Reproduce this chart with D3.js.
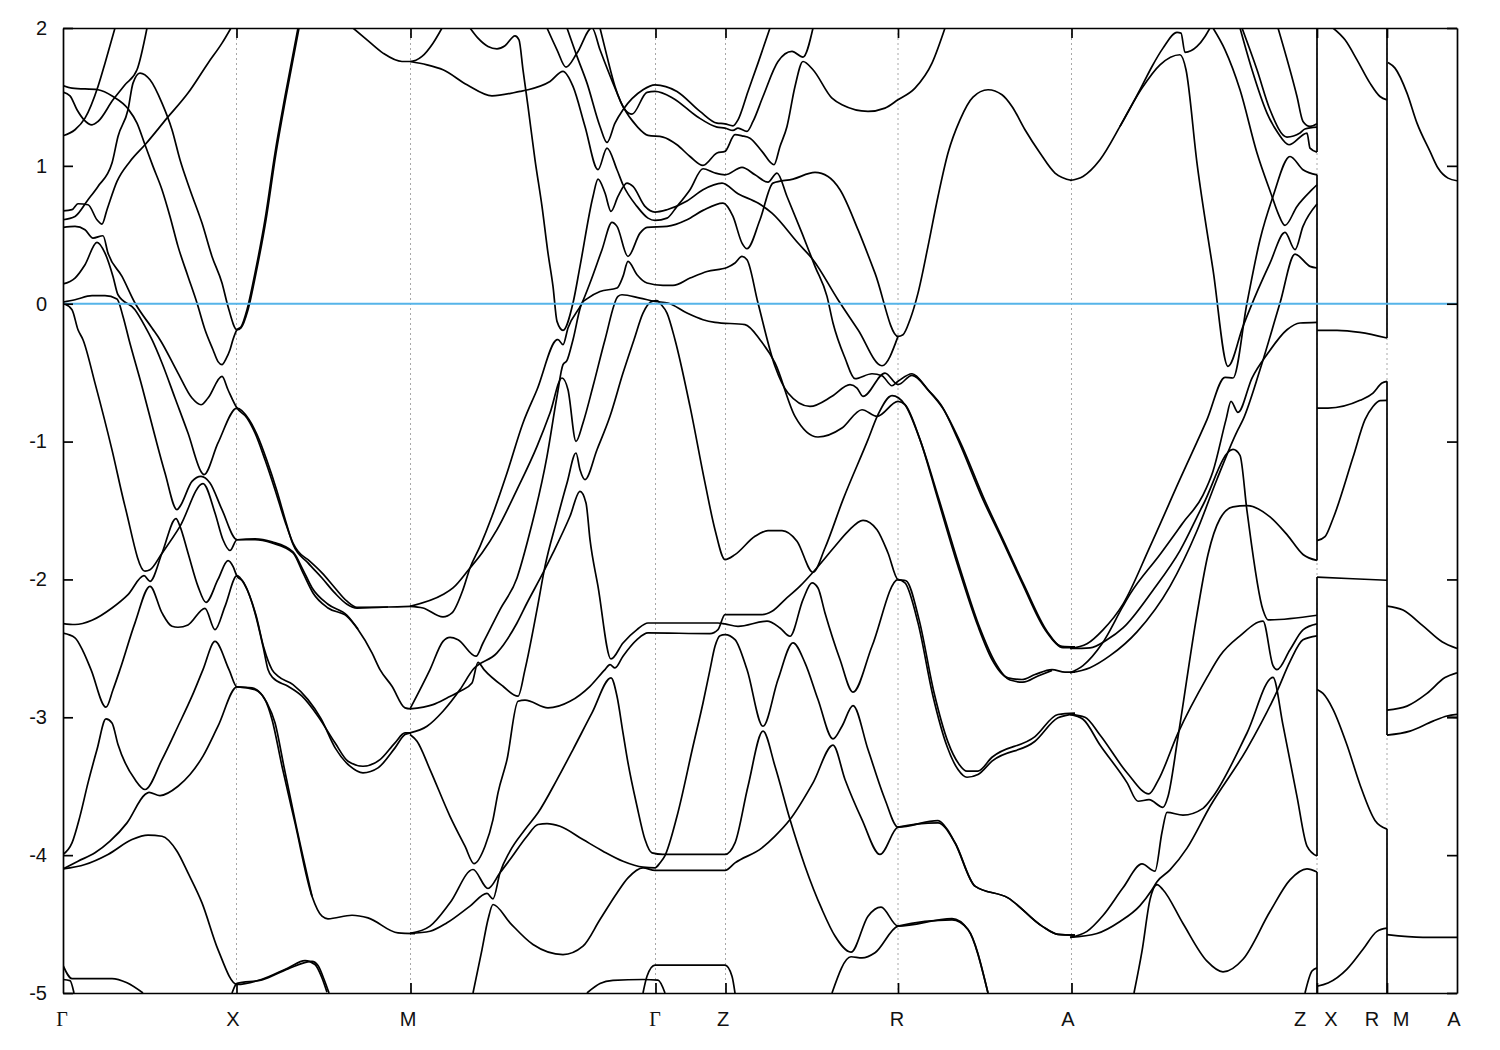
<!DOCTYPE html>
<html><head><meta charset="utf-8">
<script src="https://cdn.jsdelivr.net/npm/d3@7"></script>
<style>html,body{margin:0;background:#fff}svg{display:block}text{font-family:"Liberation Sans",Arial,sans-serif;font-size:20px;fill:#111}</style>
</head><body><svg id="c" width="1500" height="1050"></svg>
<script>
// k = distance along the path, E = energy
const energyTicks=[2,1,0,-1,-2,-3,-4,-5];
const symmetryK=[173.5,347.5,592.5,662.5,835,1008.5,1254,1324];
const kTickLabels=["Γ","X","M","Γ","Z","R","A","Z","X","R","M","A"];
const kTickLabelPos=[-1,170,345,592,660,834,1005,1237,1268,1309,1338,1391];
const fermi=[[0,0],[1394,0]];
const seam1=[[1254,2],[1254,1.1]], seam2=[[1254,.935],[1254,-1.862]], seam3=[[1254,-1.983],[1254,-4.007]], seam4=[[1254,-4.122],[1254,-5]];
const seam5=[[1324,2],[1324,-.249]], seam6=[[1324,-.563],[1324,-3.129]], seam7=[[1324,-3.811],[1324,-5]];

// Γ - X
const b01=[[0,1.583],[9,1.564],[35,1.552],[50,1.503],[65,1.414],[74,1.31],[82,1.153],[90,.996],[99,.827],[107,.633],[115,.416],[125,.198],[134,.005],[142,-.189],[150,-.334],[155,-.42],[159,-.442],[163,-.4],[167,-.334],[170,-.26],[174,-.189],[178,-.169],[184,-.044],[192,.222],[202,.609],[212,1.093],[222,1.503],[235,2]];
const b02=[[0,.609],[12,.633],[25,.754],[35,.851],[49,1.02],[55,1.213],[65,1.407],[70,1.6],[77,1.673],[87,1.624],[99,1.455],[109,1.262],[117,1.044],[127,.827],[139,.585],[149,.343],[159,.15],[165,-.02],[174,-.189],[178,-.175],[185,-.044],[193,.222],[203,.609],[213,1.093],[223,1.503],[236,2]];
const b03=[[0,.554],[12,.561],[22,.537],[30,.476],[40,.493],[45,.367],[59,.198],[72,.005],[89,-.176],[97,-.261],[115,-.503],[129,-.684],[138,-.733],[145,-.684],[159,-.527],[165,-.624],[174,-.757],[184,-.829],[192,-.938],[202,-1.132],[212,-1.349],[222,-1.579],[230,-1.736],[235,-1.796],[245,-1.857],[259,-1.953],[272,-2.062],[284,-2.158],[294,-2.202],[325,-2.2],[348,-2.195]];
const b04=[[0,.143],[12,.186],[22,.283],[34,.445],[42,.367],[50,.198],[55,.065],[72,-.044],[82,-.164],[89,-.261],[99,-.43],[112,-.684],[125,-.938],[139,-1.228],[141,-1.24],[155,-1.01],[174,-.757],[186,-.84],[194,-.95],[204,-1.14],[214,-1.36],[223,-1.585],[230,-1.745],[245,-1.88],[259,-1.99],[272,-2.1],[284,-2.18],[294,-2.208],[325,-2.2]];
const b05=[[0,.012],[12,.029],[29,.058],[42,.058],[54,.034],[60,-.092],[66,-.261],[79,-.6],[92,-.962],[102,-1.228],[114,-1.494],[117,-1.47],[129,-1.289],[138,-1.252],[147,-1.3],[159,-1.494],[174,-1.712],[192,-1.712],[209,-1.736],[230,-1.808],[240,-1.953],[250,-2.098],[265,-2.207],[284,-2.268],[295,-2.364],[309,-2.533],[317,-2.654],[329,-2.775],[342,-2.932],[348,-2.94]];
const b06=[[0,.005],[9,-.044],[15,-.189],[20,-.261],[32,-.576],[49,-1.06],[62,-1.47],[82,-1.94],[87,-1.93],[99,-1.81],[117,-1.615],[140,-1.305],[152,-1.518],[160,-1.712],[167,-1.79],[174,-1.712],[192,-1.706],[209,-1.728],[230,-1.8],[240,-1.93],[249,-2.06],[265,-2.18],[284,-2.26],[295,-2.36]];
const b07=[[0,-2.32],[12,-2.327],[29,-2.296],[49,-2.207],[65,-2.11],[81,-1.973],[87,-2.014],[99,-1.81],[113,-1.559],[117,-1.615],[125,-1.808],[135,-2.05],[143,-2.166],[155,-2],[165,-1.864],[170,-1.905],[174,-1.977],[180,-2.014],[192,-2.243],[200,-2.485],[205,-2.654],[210,-2.714],[225,-2.775],[239,-2.847],[255,-2.992],[272,-3.185],[285,-3.319],[300,-3.355],[317,-3.307],[332,-3.185],[342,-3.113],[348,-3.113]];
const b08=[[0,-2.39],[12,-2.424],[20,-2.52],[28,-2.654],[43,-2.927],[50,-2.8],[57,-2.654],[72,-2.315],[87,-2.05],[99,-2.243],[109,-2.34],[115,-2.347],[125,-2.33],[142,-2.21],[152,-2.364],[162,-2.195],[174,-1.973],[181,-2.03],[193,-2.26],[201,-2.5],[209,-2.654],[215,-2.702],[230,-2.763],[245,-2.872],[258,-3.01],[272,-3.22],[287,-3.355],[300,-3.403],[315,-3.367],[332,-3.222],[342,-3.125],[348,-3.113]];
const b09=[[0,-3.995],[9,-3.911],[17,-3.717],[25,-3.476],[34,-3.234],[43,-3.012],[49,-3.041],[55,-3.198],[72,-3.452],[82,-3.524],[99,-3.307],[115,-3.065],[129,-2.847],[140,-2.654],[152,-2.45],[166,-2.654],[174,-2.78],[189,-2.787],[202,-2.872],[209,-3.016],[219,-3.355],[232,-3.766],[249,-4.298],[259,-4.443],[265,-4.462],[289,-4.436],[305,-4.455],[335,-4.564],[352,-4.569]];
const b10=[[0,-4.1],[15,-4.044],[32,-3.983],[47,-3.899],[64,-3.766],[82,-3.56],[86,-3.544],[97,-3.568],[115,-3.5],[127,-3.415],[140,-3.282],[155,-3.065],[174,-2.78],[192,-2.799],[204,-2.896],[212,-3.04],[221,-3.36],[233,-3.78],[249,-4.298]];
const b11=[[0,-4.1],[22,-4.068],[45,-3.995],[69,-3.887],[85,-3.855],[99,-3.863],[114,-3.972],[125,-4.129],[139,-4.346],[155,-4.685],[174,-4.938],[199,-4.9],[225,-4.818],[242,-4.765],[252,-4.793],[259,-4.89],[264,-4.994]];
const b12=[[0,-4.8],[9,-4.895],[49,-4.895],[64,-4.926],[80,-5]];
const b13=[[0,-4.902],[7,-4.91],[11,-5]];
const b14=[[169,-5],[174,-4.93],[199,-4.905],[225,-4.825],[249,-4.77],[255,-4.8],[261,-4.9],[266,-5]];
const b15=[[0,1.535],[7,1.508],[14,1.407],[21,1.334],[29,1.298],[35,1.322],[50,1.479],[62,1.588],[74,1.697],[84,2]];
const b16=[[0,1.218],[12,1.262],[22,1.346],[35,1.576],[42,1.745],[52,2]];
const b17=[[0,.674],[9,.682],[15,.725],[25,.718],[34,.609],[39,.578],[44,.682],[54,.887],[67,1.032],[82,1.153],[104,1.346],[125,1.528],[145,1.745],[159,1.89],[168,2]];
// M - Γ - Z
const b18=[[290,2],[304,1.914],[320,1.818],[339,1.757],[347,1.757],[359,1.794],[370,1.89],[379,2]];
const b19=[[347,1.757],[364,1.733],[380,1.697],[404,1.588],[429,1.508],[457,1.54],[465,1.552],[487,1.612],[500,1.685],[510,1.576],[522,1.286],[535,.972],[544,1.129],[554,.972],[560,.863],[574,.706],[585,.621],[592,.604],[604,.621],[614,.706],[627,.827],[640,.979],[652,.948],[662,.935],[679,.989],[692,.935],[705,.882],[714,.948],[724,.778],[739,.512],[752,.271],[764,.053],[770,-.14],[782,-.394],[792,-.544],[809,-.508],[819,-.522],[829,-.595],[835,-.563],[849,-.508],[865,-.624],[879,-.745],[895,-.986],[920,-1.421],[939,-1.711],[959,-2.025],[982,-2.364],[999,-2.485],[1012,-2.489]];
const b20=[[504,2],[514,1.794],[524,1.6],[537,1.286],[544,1.17],[552,1.31],[560,1.407],[580,1.552],[592,1.588],[614,1.54],[637,1.395],[654,1.31],[662,1.305],[670,1.29],[675,1.334],[685,1.54],[695,1.745],[707,2]];
const b21=[[537,2],[544,1.794],[552,1.576],[562,1.407],[569,1.375],[584,1.533],[592,1.54],[610,1.491],[634,1.358],[654,1.281],[662,1.274],[670,1.257],[675,1.274],[684,1.25],[690,1.322],[700,1.503],[715,1.757],[729,1.83],[740,1.789],[750,2]];
const b22=[[484,2],[494,1.842],[503,1.716],[514,1.818],[529,2],[537,1.842],[550,1.6],[560,1.431],[574,1.286],[585,1.221],[600,1.209],[614,1.153],[627,1.068],[640,1.003],[654,1.093],[662,1.105],[672,1.226],[679,1.218],[687,1.201],[699,1.105],[711,1.008],[717,1.141],[724,1.286],[732,1.576],[740,1.757],[750,1.697],[769,1.491],[779,1.443],[805,1.395],[822,1.419],[835,1.479],[852,1.564],[869,1.745],[882,2]];
const b23=[[407,2],[415,1.926],[425,1.866],[434,1.849],[442,1.871],[452,1.943],[456,1.914],[460,1.697],[465,1.431],[472,1.044],[479,.706],[485,.367],[490,.126],[494,-.128],[500,-.193],[510,.005],[517,.271],[530,.778],[535,.904],[542,.803],[548,.67],[555,.778],[564,.875],[570,.851],[582,.706],[592,.665],[604,.682],[624,.745],[640,.827],[659,.875],[675,.798],[695,.73],[709,.657],[735,.44],[750,.319],[775,.029],[795,-.189],[819,-.45],[835,-.237]];
const b24=[[347,-2.195],[360,-2.207],[380,-2.272],[389,-2.243],[400,-2.074],[407,-1.917],[417,-1.76],[429,-1.542],[444,-1.228],[460,-.865],[474,-.624],[494,-.261],[495,-.26],[500,-.297],[505,-.176],[519,.005],[527,.15],[539,.392],[549,.59],[554,.561],[565,.343],[577,.512],[584,.554],[604,.561],[624,.609],[640,.677],[660,.73],[670,.633],[679,.44],[684,.399],[697,.609],[710,.875],[730,.904],[752,.952],[765,.923],[777,.827],[795,.537],[812,.222],[835,-.237],[840,-.225],[847,-.116],[855,.077],[865,.416],[875,.778],[885,1.093],[897,1.334],[910,1.499],[925,1.552],[939,1.516],[949,1.431],[962,1.262],[977,1.093],[992,.948],[1009,.894]];
const b25=[[347,-2.195],[380,-2.11],[390,-2.062],[407,-1.917],[419,-1.808],[434,-1.639],[454,-1.349],[474,-1.035],[487,-.793],[499,-.539],[505,-.624],[513,-.998],[520,-.865],[530,-.599],[542,-.261],[555,.053],[559,.065],[577,.041],[592,.017],[605,.005],[624,-.068],[640,-.116],[652,-.135],[682,-.152],[697,-.261],[712,-.43],[732,-.817],[755,-.967],[779,-.902],[799,-.769],[814,-.817],[835,-.708],[842,-.732],[857,-.986],[875,-1.421],[895,-1.904],[915,-2.34],[929,-2.581],[945,-2.714],[959,-2.726],[972,-2.69],[989,-2.654],[1002,-2.673],[1012,-2.673]];
const b26=[[347,-3.113],[364,-3.065],[380,-2.956],[397,-2.799],[410,-2.654],[434,-2.533],[454,-2.316],[464,-2.171],[480,-1.953],[490,-1.808],[507,-1.542],[517,-1.361],[523,-1.445],[527,-1.711],[535,-2.05],[548,-2.577],[560,-2.461],[574,-2.364],[585,-2.316],[637,-2.316],[655,-2.316],[662,-2.323],[675,-2.34],[704,-2.303],[717,-2.352],[727,-2.412],[740,-2.146],[749,-2.025],[755,-2.062],[762,-2.243],[777,-2.581],[790,-2.818],[809,-2.485],[835,-2.001],[842,-2.025],[855,-2.315],[870,-2.847],[884,-3.21],[895,-3.379],[904,-3.435],[915,-3.415],[929,-3.318],[972,-3.174],[995,-3.004],[1012,-2.975]];
const b27=[[347,-2.939],[370,-2.908],[384,-2.86],[397,-2.811],[409,-2.751],[415,-2.601],[421,-2.654],[440,-2.775],[455,-2.847],[462,-2.654],[474,-2.219],[482,-1.905],[494,-1.566],[504,-1.301],[513,-1.083],[517,-1.204],[522,-1.276],[534,-1.059],[547,-.817],[560,-.503],[571,-.261],[580,-.068],[589,.017],[594,.022],[598,-.005],[604,-.068],[612,-.261],[627,-.745],[642,-1.3],[652,-1.639],[662,-1.856],[672,-1.82],[692,-1.687],[705,-1.646],[719,-1.646],[734,-1.723],[750,-1.948],[762,-1.772],[780,-1.421],[805,-.986],[815,-.805],[829,-.667],[842,-.732],[857,-.986],[876,-1.421],[897,-1.92],[917,-2.355],[932,-2.6],[947,-2.73],[960,-2.745],[975,-2.7],[989,-2.66]];
const b28=[[347,-2.939],[367,-2.654],[380,-2.449],[387,-2.42],[395,-2.437],[413,-2.557],[420,-2.461],[437,-2.219],[454,-1.989],[465,-1.711],[484,-1.107],[494,-.672],[500,-.442],[504,-.411],[510,-.261],[519,.005],[525,.041],[537,.089],[554,.114],[560,.198],[565,.307],[574,.21],[584,.15],[600,.133],[610,.133],[627,.186],[644,.234],[664,.263],[672,.295],[679,.343],[684,.319],[695,.005],[712,-.454],[725,-.648],[747,-.745],[769,-.672],[787,-.587],[794,-.612],[800,-.672],[822,-.503],[835,-.587],[849,-.52],[866,-.634],[880,-.76],[897,-1],[922,-1.43],[941,-1.725],[961,-2.04],[984,-2.375],[1000,-2.495],[1012,-2.495]];
const b29=[[347,-3.125],[354,-3.174],[367,-3.379],[387,-3.718],[402,-3.935],[411,-4.061],[422,-3.935],[430,-3.742],[435,-3.548],[444,-3.307],[455,-2.884],[462,-2.876],[485,-2.932],[507,-2.884],[527,-2.775],[542,-2.654],[547,-2.618],[552,-2.642],[560,-2.557],[574,-2.437],[585,-2.388],[647,-2.393],[655,-2.364],[662,-2.255],[699,-2.255],[709,-2.231],[722,-2.146],[737,-2.049],[750,-1.948],[772,-1.759],[785,-1.651],[800,-1.571],[814,-1.639],[825,-1.808],[835,-2.001],[843,-2.01],[856,-2.29],[871,-2.82],[885,-3.18],[896,-3.34],[904,-3.391],[915,-3.39],[929,-3.29],[972,-3.14],[995,-2.98],[1012,-2.97]];
const b30=[[347,-4.568],[367,-4.552],[384,-4.491],[407,-4.37],[424,-4.278],[430,-4.317],[437,-4.128],[447,-3.971],[462,-3.814],[475,-3.693],[494,-3.452],[510,-3.234],[529,-2.968],[548,-2.714],[554,-2.847],[560,-3.113],[565,-3.331],[574,-3.645],[582,-3.887],[589,-3.984],[600,-3.995],[662,-3.995],[672,-3.911],[685,-3.5],[700,-3.101],[712,-3.355],[727,-3.742],[742,-4.08],[759,-4.394],[772,-4.587],[788,-4.704],[805,-4.443],[818,-4.377],[835,-4.515],[889,-4.46],[905,-4.539],[925,-5]];
const b31=[[347,-4.568],[367,-4.515],[387,-4.346],[410,-4.104],[425,-4.242],[437,-4.128],[447,-4.032],[464,-3.863],[475,-3.778],[484,-3.771],[497,-3.79],[520,-3.887],[540,-3.971],[560,-4.044],[580,-4.087],[592,-4.092],[597,-4.056],[602,-4.003],[614,-3.718],[630,-3.21],[640,-2.896],[647,-2.654],[652,-2.485],[657,-2.408],[662,-2.4],[672,-2.436],[684,-2.654],[700,-3.065],[715,-2.726],[730,-2.46],[742,-2.605],[755,-2.871],[770,-3.157],[779,-3.065],[790,-2.915],[805,-3.234],[822,-3.596],[835,-3.797],[875,-3.75],[884,-3.81],[892,-3.91],[912,-4.225],[945,-4.31],[979,-4.515],[995,-4.575],[1012,-4.58]];
const b32=[[410,-5],[419,-4.685],[425,-4.467],[430,-4.358],[447,-4.491],[470,-4.648],[500,-4.721],[520,-4.66],[537,-4.467],[554,-4.274],[565,-4.165],[580,-4.092],[592,-4.111],[662,-4.111],[672,-4.056],[699,-3.947],[712,-3.862],[727,-3.742],[750,-3.476],[770,-3.202],[782,-3.451],[799,-3.742],[817,-3.995],[835,-3.797],[875,-3.766],[892,-3.91],[912,-4.225],[945,-4.31],[979,-4.515],[995,-4.575],[1012,-4.58]];
const b33=[[524,-5],[537,-4.931],[550,-4.909],[580,-4.902],[595,-4.907],[602,-5]];
const b34=[[580,-5],[584,-4.878],[592,-4.798],[662,-4.798],[669,-4.878],[672,-5]];
const b37=[[769,-5],[788,-4.737],[799,-4.745],[812,-4.708],[835,-4.515],[889,-4.47],[905,-4.539],[925,-5]];
// A - Z
const b38=[[1007,.894],[1020,.923],[1037,1.044],[1057,1.286],[1077,1.552],[1089,1.721],[1100,1.854],[1114,1.968],[1118,1.963],[1122,1.823],[1134,1.866],[1142,1.939],[1147,2]];
const b39=[[1057,1.286],[1079,1.564],[1097,1.733],[1117,1.806],[1123,1.697],[1134,1.02],[1150,.247],[1165,-.454],[1180,-.164],[1195,.102],[1207,.295],[1222,.517],[1232,.392],[1240,.561],[1254,.723]];
const b40=[[1007,-2.501],[1024,-2.467],[1040,-2.366],[1060,-2.179],[1087,-1.762],[1117,-1.273],[1144,-.841],[1162,-.534],[1170,-.539],[1184,.005],[1197,.464],[1210,.778],[1227,1.068],[1240,.972],[1254,.935]];
const b41=[[1007,-2.677],[1020,-2.625],[1039,-2.467],[1060,-2.194],[1067,-2.107],[1097,-1.819],[1120,-1.589],[1140,-1.388],[1150,-1.215],[1163,-.841],[1168,-.708],[1175,-.788],[1189,-.539],[1205,-.358],[1224,-.189],[1237,-.14],[1254,-.135]];
const b42=[[1007,-2.501],[1027,-2.496],[1044,-2.438],[1060,-2.352],[1090,-2.078],[1117,-1.791],[1140,-1.46],[1170,-1.057],[1177,-1.1],[1184,-1.503],[1200,-2.222],[1205,-2.294],[1254,-2.26]];
const b43=[[1007,-2.677],[1027,-2.64],[1047,-2.553],[1074,-2.38],[1107,-2.05],[1134,-1.647],[1154,-1.273],[1174,-.927],[1180,-.841],[1197,-.479],[1217,.005],[1232,.36],[1247,.271],[1254,.259]];
const b44=[[1150,2],[1162,1.842],[1177,1.552],[1194,1.093],[1209,.778],[1215,.657],[1222,.568],[1234,.706],[1249,.827],[1254,.863]];
const b45=[[1177,2],[1189,1.697],[1204,1.383],[1215,1.238],[1226,1.153],[1244,1.238],[1247,1.129],[1254,1.1]];
const b46=[[1179,2],[1194,1.697],[1207,1.407],[1224,1.209],[1237,1.238],[1242,1.267],[1254,1.281]];
const b47=[[1215,2],[1234,1.503],[1240,1.322],[1247,1.286],[1254,1.305]];
const b48=[[1007,-2.979],[1020,-3.014],[1037,-3.201],[1064,-3.474],[1075,-3.609],[1086,-3.598],[1100,-3.653],[1105,-3.575],[1115,-3.143],[1134,-2.251],[1145,-1.819],[1157,-1.56],[1170,-1.474],[1184,-1.465],[1207,-1.546],[1224,-1.675],[1240,-1.819],[1254,-1.862]];
const b49=[[1007,-2.979],[1022,-3],[1037,-3.129],[1064,-3.402],[1086,-3.555],[1095,-3.46],[1115,-3.115],[1144,-2.711],[1157,-2.553],[1177,-2.409],[1200,-2.303],[1210,-2.625],[1214,-2.654],[1227,-2.51],[1240,-2.366],[1254,-2.323]];
const b50=[[1007,-4.596],[1024,-4.553],[1040,-4.438],[1060,-4.237],[1079,-4.064],[1092,-4.116],[1099,-3.834],[1104,-3.69],[1120,-3.71],[1140,-3.661],[1150,-3.575],[1184,-3.114],[1210,-2.711],[1220,-3.057],[1234,-3.575],[1244,-3.934],[1254,-4.007]];
const b51=[[1007,-4.596],[1034,-4.568],[1057,-4.481],[1077,-4.366],[1089,-4.251],[1094,-4.193],[1107,-4.107],[1124,-3.949],[1147,-3.647],[1184,-3.229],[1214,-2.812],[1227,-2.596],[1240,-2.438],[1254,-2.409]];
const b52=[[1071,-5],[1079,-4.697],[1087,-4.323],[1094,-4.214],[1100,-4.251],[1120,-4.496],[1144,-4.769],[1160,-4.847],[1180,-4.755],[1207,-4.409],[1227,-4.179],[1244,-4.099],[1254,-4.122]];
const b53=[[1242,-5],[1249,-4.841],[1254,-4.818]];
// Z - X - R
const b54=[[1270,2],[1282,1.914],[1294,1.769],[1307,1.6],[1317,1.503],[1324,1.479]];
const b55=[[1254,-.193],[1274,-.193],[1297,-.208],[1324,-.249]];
const b56=[[1254,-.757],[1265,-.757],[1297,-.701],[1310,-.648],[1319,-.575],[1324,-.563]];
const b57=[[1254,-1.719],[1262,-1.69],[1270,-1.56],[1290,-1.114],[1302,-.841],[1310,-.745],[1317,-.703],[1324,-.701]];
const b58=[[1254,-1.983],[1290,-1.995],[1324,-2.006]];
const b59=[[1254,-2.798],[1260,-2.827],[1270,-2.942],[1284,-3.201],[1297,-3.489],[1312,-3.748],[1324,-3.811]];
const b60=[[1254,-4.951],[1265,-4.928],[1284,-4.827],[1300,-4.683],[1314,-4.553],[1324,-4.53]];
// M - A
const b61=[[1325,1.75],[1332,1.709],[1344,1.528],[1354,1.31],[1367,1.105],[1375,.984],[1385,.911],[1394,.892]];
const b62=[[1324,-2.193],[1340,-2.222],[1360,-2.337],[1379,-2.452],[1394,-2.501]];
const b63=[[1324,-2.948],[1344,-2.919],[1364,-2.827],[1382,-2.712],[1394,-2.677]];
const b64=[[1324,-3.129],[1347,-3.1],[1370,-3.028],[1384,-2.991],[1394,-2.979]];
const b65=[[1384,-2.998],[1394,-3]];
const b66=[[1324,-4.576],[1360,-4.596],[1394,-4.596]];

const bands=[b01,b02,b03,b04,b05,b06,b07,b08,b09,b10,b11,b12,b13,b14,b15,b16,b17,b18,b19,b20,b21,b22,b23,b24,b25,b26,b27,b28,b29,b30,b31,b32,b33,b34,b37,b38,b39,b40,b41,b42,b43,b44,b45,b46,b47,b48,b49,b50,b51,b52,b53,b54,b55,b56,b57,b58,b59,b60,b61,b62,b63,b64,b65,b66,seam1,seam2,seam3,seam4,seam5,seam6,seam7];

const x=d3.scaleLinear().domain([0,1394]).range([63,1457]);
const y=d3.scaleLinear().domain([-5,2]).range([993,28]);
const svg=d3.select("#c");
const defs=svg.append("defs");
defs.append("clipPath").attr("id","plot").append("rect").attr("x",63).attr("y",28).attr("width",1394).attr("height",965);
const line=d3.line().x(d=>x(d[0])).y(d=>y(d[1])).curve(d3.curveMonotoneX);

// dashed symmetry lines
svg.append("g").selectAll("line").data(symmetryK).join("line")
 .attr("x1",d=>x(d)).attr("x2",d=>x(d)).attr("y1",y(2)).attr("y2",y(-5))
 .attr("stroke","#a8a8a8").attr("stroke-width",1).attr("stroke-dasharray","2,3");

const plot=svg.append("g").attr("clip-path","url(#plot)");
plot.selectAll("path.band").data(bands).join("path").attr("class","band").attr("d",line)
 .attr("fill","none").attr("stroke","#000").attr("stroke-width",1.7).attr("stroke-linejoin","round");
plot.append("path").attr("d",line(fermi)).attr("fill","none").attr("stroke","#56b4e9").attr("stroke-width",2);

// frame and ticks
function styleAxis(g){g.select(".domain").attr("stroke","#000").attr("stroke-width",1.7);g.selectAll("line").attr("stroke","#000").attr("stroke-width",1.7);}
const left=svg.append("g").attr("transform","translate(63,0)").call(d3.axisLeft(y).tickValues(energyTicks).tickSizeInner(-10).tickSizeOuter(0).tickPadding(16).tickFormat(d3.format("d")));
const right=svg.append("g").attr("transform","translate(1457,0)").call(d3.axisRight(y).tickValues(energyTicks).tickSizeInner(-10).tickSizeOuter(0).tickFormat(""));
const top_=svg.append("g").attr("transform","translate(0,28)").call(d3.axisTop(x).tickValues(symmetryK).tickSizeInner(-10).tickSizeOuter(0).tickFormat(""));
const bot=svg.append("g").attr("transform","translate(0,993)").call(d3.axisBottom(x).tickValues(symmetryK).tickSizeInner(-10).tickSizeOuter(0).tickFormat(""));
[left,right,top_,bot].forEach(styleAxis);
left.selectAll("text").style("font-family",'"Liberation Sans",Arial,sans-serif').style("font-size","20px").attr("fill","#111").text(d=>d<0?"-"+(-d):d);
svg.append("g").selectAll("text").data(kTickLabels).join("text")
 .attr("x",(d,i)=>x(kTickLabelPos[i])).attr("y",1026).attr("text-anchor","middle")
 .style("font-family",d=>d==="Γ"?'"Liberation Serif",serif':null).text(d=>d);
</script></body></html>
